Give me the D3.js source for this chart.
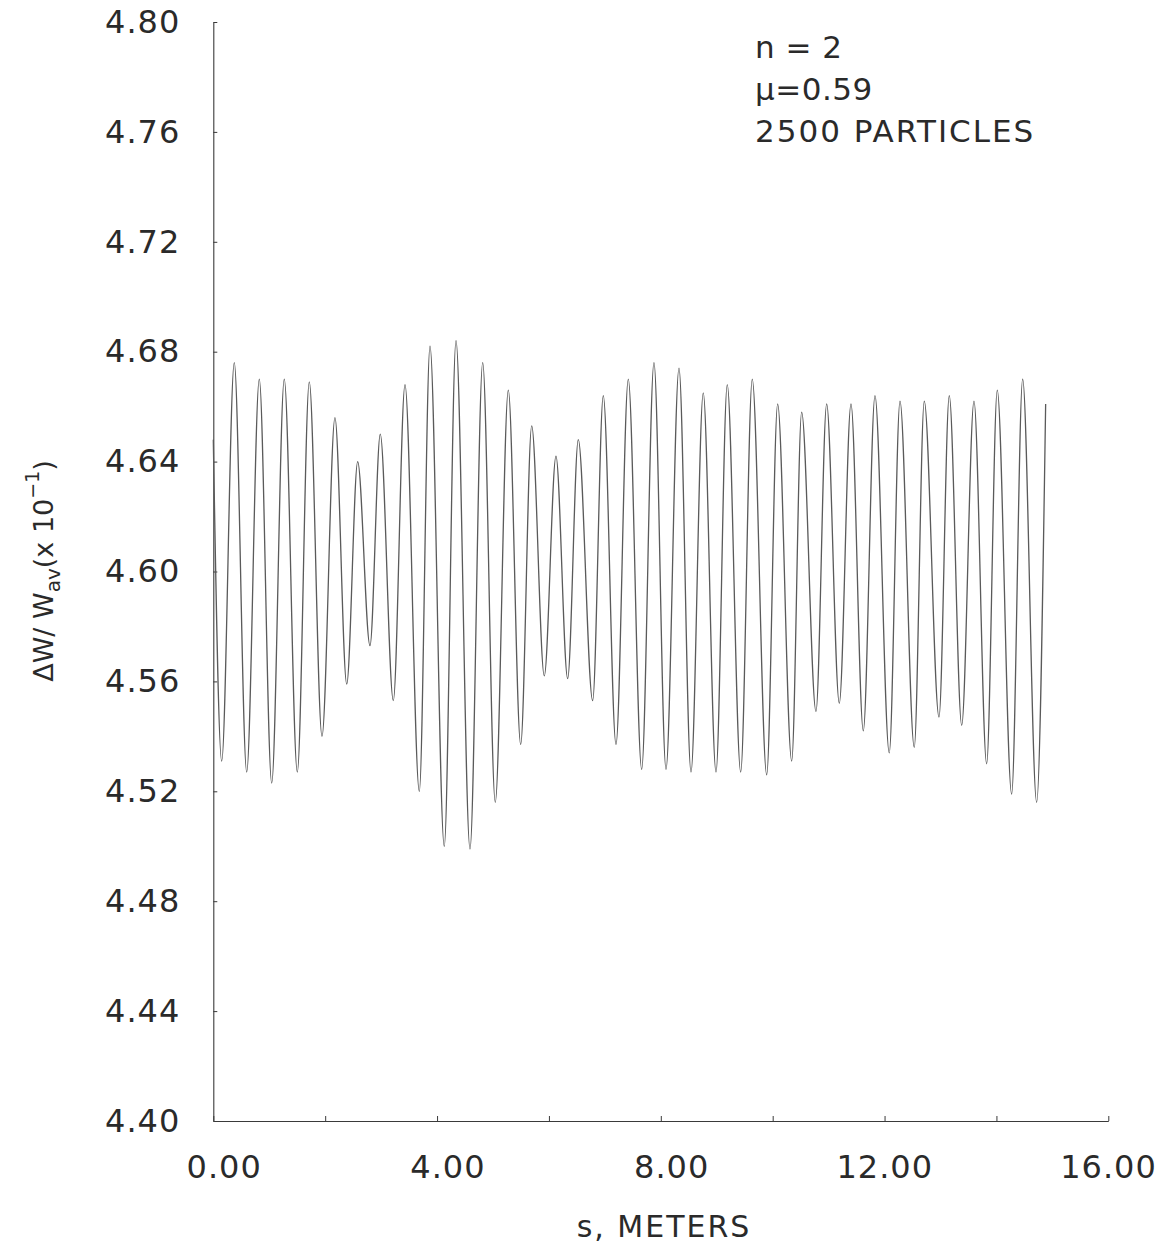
<!DOCTYPE html>
<html>
<head>
<meta charset="utf-8">
<script src="https://cdn.jsdelivr.net/npm/d3@7"></script>
<style>
  html, body { margin: 0; padding: 0; background: #fff; }
  svg { display: block; }
  text { font-family: "DejaVu Sans ExtraLight", "DejaVu Sans", "Noto Sans", sans-serif; fill: #2a2a2a; }
</style>
</head>
<body>
<svg id="chart" width="1167" height="1251"></svg>
<script>
// Turning points of the relative energy-spread oscillation along the linac
// s in meters, value in units of 10^-1
const sMeters = [
  0.000, 0.150, 0.375, 0.597, 0.822, 1.044, 1.269, 1.502, 1.716, 1.943,
  2.175, 2.385, 2.581, 2.801, 2.985, 3.218, 3.427, 3.683, 3.874, 4.129,
  4.339, 4.589, 4.816, 5.041, 5.274, 5.495, 5.692, 5.917, 6.126, 6.335,
  6.525, 6.782, 6.972, 7.199, 7.419, 7.658, 7.878, 8.093, 8.325, 8.540,
  8.759, 8.987, 9.188, 9.428, 9.635, 9.893, 10.089, 10.340, 10.518, 10.774,
  10.965, 11.191, 11.400, 11.620, 11.829, 12.084, 12.276, 12.531, 12.710, 12.973,
  13.157, 13.379, 13.599, 13.825, 14.015, 14.272, 14.469, 14.719, 14.880
];
const spreadValues = [
  4.648, 4.531, 4.676, 4.527, 4.670, 4.523, 4.670, 4.527, 4.669, 4.540,
  4.656, 4.559, 4.640, 4.573, 4.650, 4.553, 4.668, 4.520, 4.682, 4.500,
  4.684, 4.499, 4.676, 4.516, 4.666, 4.537, 4.653, 4.562, 4.642, 4.561,
  4.648, 4.553, 4.664, 4.537, 4.670, 4.528, 4.676, 4.528, 4.674, 4.527,
  4.665, 4.527, 4.668, 4.527, 4.670, 4.526, 4.661, 4.531, 4.658, 4.549,
  4.661, 4.552, 4.661, 4.542, 4.664, 4.534, 4.662, 4.536, 4.662, 4.547,
  4.664, 4.544, 4.662, 4.530, 4.666, 4.519, 4.670, 4.516, 4.661
];

const xTickValues = [0, 2, 4, 6, 8, 10, 12, 14, 16];
const xLabelled = [0, 4, 8, 12, 16];
const yTickValues = [4.40, 4.44, 4.48, 4.52, 4.56, 4.60, 4.64, 4.68, 4.72, 4.76, 4.80];
const annotations = ["n = 2", "\u03bc=0.59", "2500 PARTICLES"];

const svg = d3.select("#chart");
const ink = "#3a3a3a";

const x = d3.scaleLinear().domain([0, 16]).range([213.3, 1108.3]);
const y = d3.scaleLinear().domain([4.40, 4.80]).range([1121, 22]);

// y axis, ticks pointing into the plot
const yAxis = svg.append("g")
  .attr("transform", `translate(${x(0)},0)`)
  .call(d3.axisLeft(y).tickValues(yTickValues).tickFormat(d3.format(".2f"))
    .tickSizeInner(-4).tickSizeOuter(0).tickPadding(33));
yAxis.select(".domain").attr("stroke", ink).attr("stroke-width", 1.1);
yAxis.selectAll(".tick line").attr("stroke", ink);
yAxis.selectAll(".tick text")
  .style("font-size", "32px").attr("letter-spacing", "1px")
  .attr("fill", "#2a2a2a");

// x axis, labels every 4 m, right-aligned a little past their tick
const xAxis = svg.append("g")
  .attr("transform", `translate(0,${y(4.40)})`)
  .call(d3.axisBottom(x).tickValues(xTickValues)
    .tickFormat(d => xLabelled.includes(d) ? d3.format(".2f")(d) : "")
    .tickSizeInner(-5).tickSizeOuter(0).tickPadding(34));
xAxis.select(".domain").attr("stroke", ink).attr("stroke-width", 1.1);
xAxis.selectAll(".tick line").attr("stroke", ink);
xAxis.selectAll(".tick text")
  .style("font-size", "32px").attr("letter-spacing", "1px")
  .attr("text-anchor", "end").attr("x", 48)
  .attr("fill", "#2a2a2a");

// oscillation trace
const pts = sMeters.map((s, i) => [s, spreadValues[i]]);
const line = d3.line()
  .x(d => x(d[0]))
  .y(d => y(d[1]))
  .curve(d3.curveMonotoneX);
svg.append("path")
  .datum(pts)
  .attr("d", line)
  .attr("fill", "none")
  .attr("stroke", "#5a5a5a")
  .attr("stroke-width", 1.3);

// x-axis title
svg.append("text")
  .attr("x", 664).attr("y", 1237)
  .attr("text-anchor", "middle")
  .style("font-size", "30px").attr("letter-spacing", "2px")
  .text("s, METERS");

// y-axis title (rotated)
const yt = svg.append("text")
  .attr("transform", "translate(53,571) rotate(-90)")
  .attr("text-anchor", "middle")
  .style("font-size", "27px");
yt.append("tspan").text("\u0394W/ W");
yt.append("tspan").attr("baseline-shift", "-7").style("font-size", "20px").text("av");
yt.append("tspan").text("(x 10");
yt.append("tspan").attr("baseline-shift", "14").style("font-size", "19px").text("\u22121");
yt.append("tspan").text(")");

// parameter block in the upper right
svg.append("g").selectAll("text")
  .data(annotations)
  .join("text")
  .attr("x", 755)
  .attr("y", (d, i) => 58 + i * 42)
  .style("font-size", "31px")
  .attr("letter-spacing", (d, i) => i === 2 ? "2px" : "0.5px")
  .text(d => d);
</script>
</body>
</html>
